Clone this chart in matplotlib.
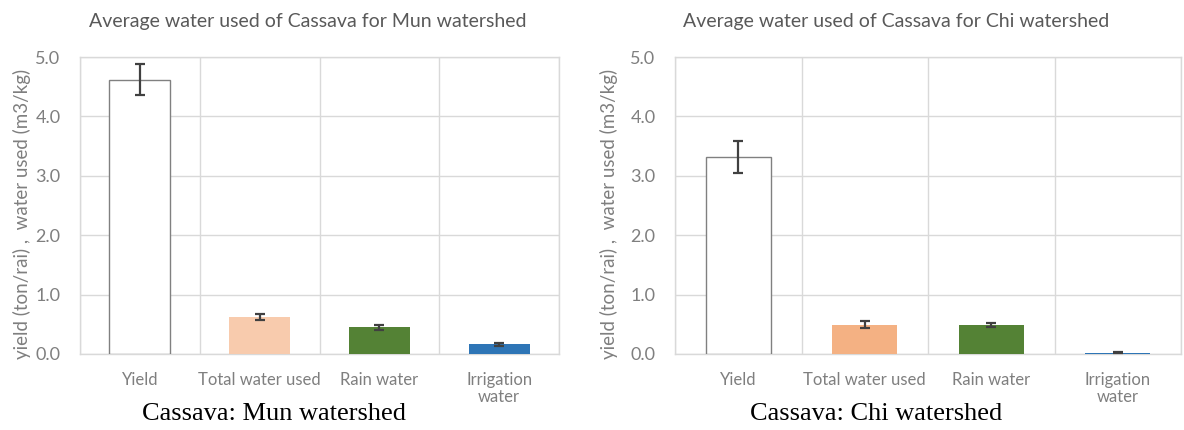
import matplotlib
matplotlib.use("Agg")
import matplotlib.pyplot as plt
import numpy as np

categories = ["Yield", "Total water used", "Rain water", "Irrigation\nwater"]
mun_values = [4.62, 0.63, 0.45, 0.16]
mun_err = [0.26, 0.05, 0.04, 0.02]
chi_values = [3.32, 0.49, 0.49, 0.02]
chi_err = [0.27, 0.06, 0.04, 0.01]

mun_colors = ["white", "#F8CBAD", "#548235", "#2E75B6"]
chi_colors = ["white", "#F4B183", "#548235", "#2E75B6"]
edge_colors = ["#808080", "none", "none", "none"]

titles = ["Average water used of Cassava for Mun watershed",
          "Average water used of Cassava for Chi watershed"]
captions = ["Cassava: Mun watershed", "Cassava: Chi watershed"]
ylabel = "yield (ton/rai) ,  water used (m3/kg)"
yticks = [0.0, 1.0, 2.0, 3.0, 4.0, 5.0]

W, H = 1184, 430
fig = plt.figure(figsize=(W / 100, H / 100), dpi=100)
fig.patch.set_facecolor("white")

txt_color = "#7f7f7f"
grid_color = "#d9d9d9"
font = ["Lato", "DejaVu Sans"]

specs = [
    dict(rect=[80 / W, 1 - 354 / H, 479 / W, 297 / H], vals=mun_values, err=mun_err,
         colors=mun_colors, title_x=308, cap_x=274, ylab_x=22),
    dict(rect=[675 / W, 1 - 354 / H, 506 / W, 297 / H], vals=chi_values, err=chi_err,
         colors=chi_colors, title_x=896, cap_x=876, ylab_x=609),
]

for i, s in enumerate(specs):
    ax = fig.add_axes(s["rect"])
    x = np.arange(len(categories))
    ax.bar(x, s["vals"], width=0.51, color=s["colors"], edgecolor=edge_colors,
           linewidth=1.0, zorder=3)
    ax.errorbar(x, s["vals"], yerr=s["err"], fmt="none", ecolor="#404040",
                elinewidth=1.6, capsize=3.5, capthick=1.6, zorder=4)
    ax.set_xlim(-0.5, len(categories) - 0.5)
    ax.set_ylim(0, 5.0)
    ax.set_yticks(yticks)
    ax.set_yticklabels([f"{v:.1f}" for v in yticks], family=font, fontsize=13, color=txt_color)
    ax.set_xticks(x)
    ax.set_xticklabels(categories, family=font, fontsize=12, color=txt_color, linespacing=1.1)
    ax.set_xticks(np.arange(len(categories) + 1) - 0.5, minor=True)
    ax.tick_params(axis="both", which="both", length=0)
    ax.tick_params(axis="x", pad=13)
    ax.tick_params(axis="y", pad=14)
    ax.grid(True, axis="y", which="major", color=grid_color, linewidth=1.0, zorder=0)
    ax.grid(True, axis="x", which="minor", color=grid_color, linewidth=1.0, zorder=0)
    for sp in ax.spines.values():
        sp.set_color(grid_color)
        sp.set_linewidth(1.0)
    fig.text(s["title_x"] / W, 1 - 22 / H, titles[i], family=font, fontsize=14,
             color="#595959", ha="center", va="center")
    fig.text(s["ylab_x"] / W, 1 - 214 / H, ylabel, family=font, fontsize=13.5,
             color=txt_color, rotation=90, ha="center", va="center")
    fig.text(s["cap_x"] / W, 1 - 414 / H, captions[i], family="Liberation Serif",
             fontsize=19, color="black", ha="center", va="center")

fig.savefig("out.png", dpi=100, facecolor="white")
